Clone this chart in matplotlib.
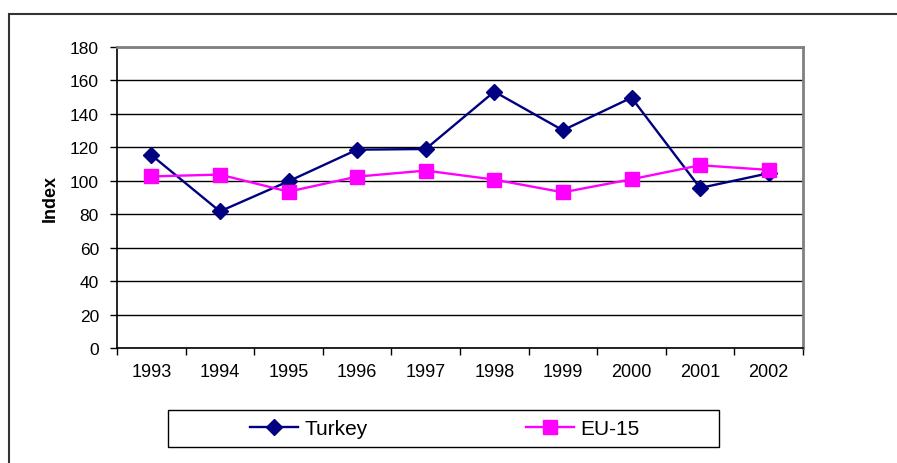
import matplotlib
matplotlib.use('Agg')
import matplotlib.pyplot as plt
from matplotlib.patches import Rectangle
from matplotlib.ticker import FixedLocator

plt.rcParams['font.family'] = ['Liberation Sans', 'DejaVu Sans']

years = ['1993', '1994', '1995', '1996', '1997', '1998', '1999', '2000', '2001', '2002']
turkey = [115.4, 81.7, 99.7, 118.6, 119.0, 153.3, 130.2, 149.7, 95.7, 104.5]
eu15 = [102.6, 103.7, 93.5, 102.5, 106.1, 100.7, 93.1, 100.9, 109.3, 106.5]

W, H = 897, 464
fig = plt.figure(figsize=(W / 100, H / 100), dpi=100)

# outer chart frame (runs off the right/bottom edge in the reference)
fig.patches.append(Rectangle((9 / W, -0.1), 2, 1 - 15 / H + 0.1, transform=fig.transFigure,
                             fill=False, edgecolor='#333333', linewidth=1.5))

ax = fig.add_axes([117 / W, 1 - 349 / H, 686 / W, 301 / H])
x = list(range(len(years)))

ax.plot(x, turkey, color='#000080', marker='D', markersize=8.5, linewidth=1.7, label='Turkey', zorder=3)
ax.plot(x, eu15, color='#FF00FF', marker='s', markersize=9.5, linewidth=1.7, label='EU-15', zorder=3)

ax.set_xlim(-0.5, 9.5)
ax.set_ylim(0, 180)
ax.set_yticks(range(0, 181, 20))
ax.yaxis.grid(True, color='#000000', linewidth=1)
ax.set_axisbelow(True)

ax.set_xticks(x)
ax.set_xticklabels(years)
ax.xaxis.set_minor_locator(FixedLocator([i - 0.5 for i in range(len(years) + 1)]))
ax.tick_params(axis='x', which='major', length=0, pad=11, labelsize=13)
ax.tick_params(axis='x', which='minor', length=5, width=1, direction='out')
ax.tick_params(axis='y', length=5, width=1, direction='out', pad=8, labelsize=12.5)

for s in ['top', 'right']:
    ax.spines[s].set_color('#808080')
    ax.spines[s].set_linewidth(2)
for s in ['left', 'bottom']:
    ax.spines[s].set_color('#000000')
    ax.spines[s].set_linewidth(1.2)

fig.text(50 / W, 1 - 198 / H, 'Index', rotation=90, ha='center', va='center',
         fontsize=13, fontweight='bold')

# legend box
fig.patches.append(Rectangle((168 / W, 1 - 448 / H), 551 / W, 37 / H, transform=fig.transFigure,
                             fill=False, edgecolor='#000000', linewidth=1))
fig.legend(loc='center', bbox_to_anchor=(445 / W, 1 - 430 / H), ncol=2, frameon=False,
           fontsize=15, handlelength=2.3, handletextpad=0.3, columnspacing=7.6,
           markerscale=1.0)

fig.savefig('out.png', dpi=100)
